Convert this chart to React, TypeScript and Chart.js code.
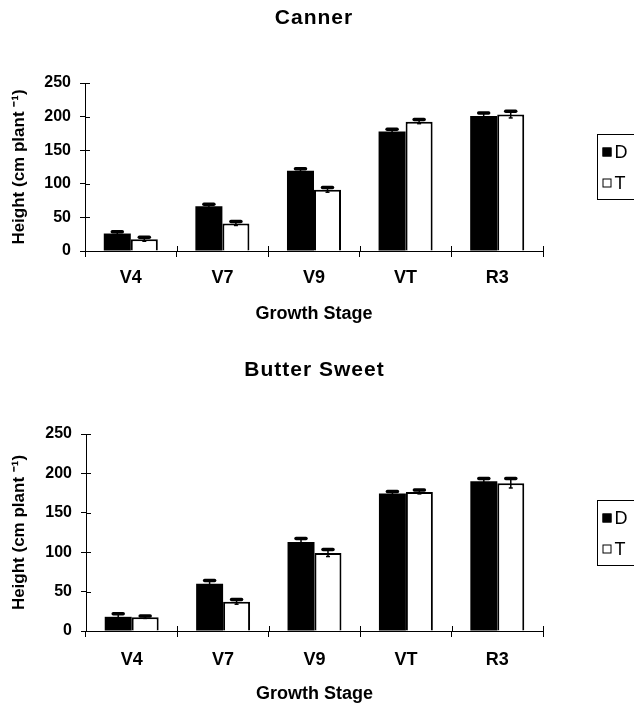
import React, { useEffect, useRef } from "react";
import { Chart, registerables } from "chart.js";

Chart.register(...registerables);

const FONT = "'Liberation Sans', Arial, Helvetica, sans-serif";

const stages = ["V4", "V7", "V9", "VT", "R3"];
const seriesLabels = ["D", "T"];
const yTicks = [0, 50, 100, 150, 200, 250];

const cannerD = [26, 66.5, 119.5, 178, 201];
const cannerDErr = [2.5, 3, 3, 3, 4.5];
const cannerT = [17.5, 41, 91, 192.5, 203];
const cannerTErr = [3, 3, 3.5, 3, 5];

const butterD = [18, 60, 113, 174.5, 190];
const butterDErr = [4, 4, 4.5, 2.5, 3.5];
const butterT = [17.5, 37, 99, 176.5, 187.5];
const butterTErr = [1.5, 3, 4.5, 2.5, 6];

const errorBarsPlugin = {
  id: "errorBars",
  afterDatasetsDraw(chart: any) {
    const ctx = chart.ctx;
    const y = chart.scales.y;
    chart.data.datasets.forEach((ds: any, di: number) => {
      const meta = chart.getDatasetMeta(di);
      const errs = ds.errors || [];
      meta.data.forEach((bar: any, i: number) => {
        const v = ds.data[i];
        const e = errs[i] || 0;
        const x = bar.x;
        const yt = y.getPixelForValue(v + e);
        const yb = y.getPixelForValue(v - e);
        ctx.save();
        ctx.strokeStyle = "#000";
        ctx.lineWidth = 1.5;
        ctx.beginPath();
        ctx.moveTo(x, yb);
        ctx.lineTo(x, yt);
        ctx.stroke();
        ctx.lineWidth = 3.5;
        ctx.lineCap = "round";
        ctx.beginPath();
        ctx.moveTo(x - 5, yt);
        ctx.lineTo(x + 5, yt);
        ctx.stroke();
        ctx.lineWidth = 1.5;
        ctx.lineCap = "butt";
        ctx.beginPath();
        ctx.moveTo(x - 2, yb);
        ctx.lineTo(x + 2, yb);
        ctx.stroke();
        ctx.restore();
      });
    });
  },
};

const innerTicksPlugin = {
  id: "innerTicks",
  afterDraw(chart: any) {
    const { ctx, chartArea } = chart;
    const x = chart.scales.x;
    const y = chart.scales.y;
    ctx.save();
    ctx.strokeStyle = "#000";
    ctx.lineWidth = 1;
    y.ticks.forEach((t: any) => {
      const py = Math.round(y.getPixelForValue(t.value)) + 0.5;
      ctx.beginPath();
      ctx.moveTo(chartArea.left, py);
      ctx.lineTo(chartArea.left + 5, py);
      ctx.stroke();
    });
    const n = x.ticks.length;
    const w = x.getPixelForValue(1) - x.getPixelForValue(0);
    for (let i = 0; i <= n; i++) {
      const px = Math.round(x.getPixelForValue(0) - w / 2 + i * w) + 0.5;
      ctx.beginPath();
      ctx.moveTo(px, chartArea.bottom - 5);
      ctx.lineTo(px, chartArea.bottom);
      ctx.stroke();
    }
    ctx.restore();
  },
};

const panelTitlePlugin = {
  id: "panelTitle",
  afterDraw(chart: any, _args: any, opts: any) {
    const { ctx, chartArea } = chart;
    ctx.save();
    ctx.fillStyle = "#000";
    ctx.font = `bold ${opts.size}px ${FONT}`;
    try {
      (ctx as any).letterSpacing = "1px";
    } catch (e) {}
    ctx.textAlign = "center";
    ctx.textBaseline = "middle";
    ctx.fillText(opts.text, (chartArea.left + chartArea.right) / 2, opts.y);
    ctx.restore();
  },
};

const boxLegendPlugin = {
  id: "boxLegend",
  afterDraw(chart: any) {
    const { ctx, chartArea } = chart;
    const cy = (chartArea.top + chartArea.bottom) / 2;
    const left = Math.round(chartArea.right + 54) + 0.5;
    ctx.save();
    ctx.strokeStyle = "#000";
    ctx.lineWidth = 1;
    ctx.strokeRect(left, Math.round(cy - 33) + 0.5, 200, 65);
    chart.data.datasets.forEach((ds: any, i: number) => {
      const ry = Math.round(cy - 15 + i * 31);
      ctx.fillStyle = ds.backgroundColor;
      ctx.fillRect(left + 5, ry - 4.5, 9, 9);
      ctx.strokeStyle = "#000";
      ctx.strokeRect(left + 5.5, ry - 4, 8, 8);
      ctx.fillStyle = "#000";
      ctx.font = `18px ${FONT}`;
      ctx.textAlign = "left";
      ctx.textBaseline = "middle";
      ctx.fillText(ds.label, left + 17, ry + 1);
    });
    ctx.restore();
  },
};

type PanelProps = {
  title: string;
  d: number[];
  dErr: number[];
  t: number[];
  tErr: number[];
  height: number;
  top: number;
  yWidth: number;
  xHeight: number;
  titleY: number;
  catPad: number;
  xTitlePad: number;
};

function Panel(p: PanelProps) {
  const ref = useRef<HTMLCanvasElement | null>(null);
  useEffect(() => {
    if (!ref.current) return;
    const chart = new Chart(ref.current, {
      type: "bar",
      data: {
        labels: stages,
        datasets: [
          {
            label: seriesLabels[0],
            data: p.d,
            errors: p.dErr,
            backgroundColor: "#000",
            borderColor: "#000",
            borderWidth: 0,
          } as any,
          {
            label: seriesLabels[1],
            data: p.t,
            errors: p.tErr,
            backgroundColor: "#fff",
            borderColor: "#000",
            borderWidth: 2,
          } as any,
        ],
      },
      options: {
        animation: false,
        responsive: false,
        maintainAspectRatio: false,
        layout: { padding: { left: 0, right: 91, top: p.top, bottom: 0 } },
        datasets: { bar: { categoryPercentage: 0.59, barPercentage: 1 } },
        plugins: {
          legend: { display: false },
          tooltip: { enabled: false },
          title: { display: false },
          panelTitle: { text: p.title, y: p.titleY, size: 21 },
        } as any,
        scales: {
          x: {
            grid: { display: true, drawOnChartArea: false, tickLength: 6, color: "#000", offset: true },
            border: { display: true, color: "#000", width: 1 },
            ticks: { font: { family: FONT, size: 18, weight: "bold" }, color: "#000", padding: p.catPad },
            title: {
              display: true,
              text: "Growth Stage",
              font: { family: FONT, size: 18, weight: "bold" },
              color: "#000",
              padding: { top: 0, bottom: p.xTitlePad },
            },
            afterFit: (s: any) => {
              s.height = p.xHeight;
              s.paddingLeft = 0;
              s.paddingRight = 0;
            },
          },
          y: {
            min: 0,
            max: 250,
            afterBuildTicks: (s: any) => {
              s.ticks = yTicks.map((v) => ({ value: v }));
            },
            ticks: { font: { family: FONT, size: 16, weight: "bold" }, color: "#000", padding: 9 },
            grid: { display: true, drawOnChartArea: false, tickLength: 5, color: "#000" },
            border: { display: true, color: "#000", width: 1 },
            title: {
              display: true,
              text: "Height (cm plant \u207B\u00B9)",
              font: { family: FONT, size: 17, weight: "bold" },
              color: "#000",
              padding: { top: 9, bottom: 0 },
            },
            afterFit: (s: any) => {
              s.width = p.yWidth;
              s.paddingTop = 0;
              s.paddingBottom = 0;
            },
          },
        },
      },
      plugins: [errorBarsPlugin, innerTicksPlugin, panelTitlePlugin, boxLegendPlugin],
    } as any);
    return () => chart.destroy();
  }, []);
  return <canvas ref={ref} width={634} height={p.height} style={{ display: "block", width: 634, height: p.height }} />;
}

export default function App() {
  return (
    <div style={{ position: "absolute", left: 0, top: 0, width: 634, height: 707, background: "#fff", overflow: "hidden" }}>
      <Panel
        title="Canner"
        d={cannerD}
        dErr={cannerDErr}
        t={cannerT}
        tErr={cannerTErr}
        height={340}
        top={83}
        yWidth={85}
        xHeight={89}
        titleY={18.5}
        catPad={10}
        xTitlePad={15}
      />
      <Panel
        title="Butter Sweet"
        d={butterD}
        dErr={butterDErr}
        t={butterT}
        tErr={butterTErr}
        height={367}
        top={94}
        yWidth={86}
        xHeight={76}
        titleY={30}
        catPad={12}
        xTitlePad={2}
      />
    </div>
  );
}
